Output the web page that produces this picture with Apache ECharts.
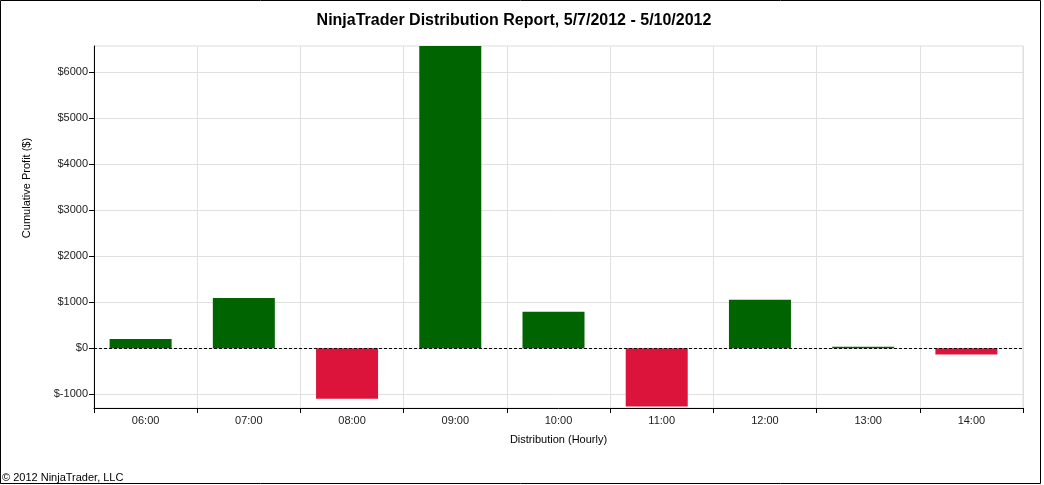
<!DOCTYPE html>
<html>
<head>
<meta charset="utf-8">
<script src="https://cdn.jsdelivr.net/npm/echarts@6/dist/echarts.min.js"></script>
<style>
html,body{margin:0;padding:0;background:#fff;}
#chart{width:1044px;height:485px;}
</style>
</head>
<body>
<div id="chart"></div>
<script>
const categories = ['06:00','07:00','08:00','09:00','10:00','11:00','12:00','13:00','14:00'];
const profits = [200, 1090, -1100, 6560, 790, -1270, 1050, 30, -140];
const yTicks = [-1000, 0, 1000, 2000, 3000, 4000, 5000, 6000];
const titleText = 'NinjaTrader Distribution Report, 5/7/2012 - 5/10/2012';
const copyright = '\u00a9 2012 NinjaTrader, LLC';

const chart = echarts.init(document.getElementById('chart'));
const font = 'Liberation Sans, Arial, sans-serif';
chart.setOption({
  animation: false,
  textStyle: {fontFamily: font},
  title: {
    text: titleText, left: 509, top: 8, textAlign: 'center',
    textStyle: {fontFamily: font, fontSize: 16, fontWeight: 'bold', color: '#000'}
  },
  grid: {left: 94, right: 21, top: 46, bottom: 77, show: true, borderColor: '#dcdcdc', borderWidth: 1},
  xAxis: {
    type: 'category', data: categories,
    name: 'Distribution (Hourly)', nameLocation: 'middle', nameGap: 26,
    nameTextStyle: {fontSize: 11, color: '#000'},
    axisLine: {onZero: false, lineStyle: {color: '#000', width: 1}},
    axisTick: {show: true, length: 5, lineStyle: {color: '#000'}},
    axisLabel: {fontSize: 11, color: '#222', margin: 7},
    splitLine: {show: true, lineStyle: {color: '#e0e0e0'}}
  },
  yAxis: {
    type: 'value', min: -1300, max: 6560,
    name: 'Cumulative Profit ($)', nameLocation: 'middle', nameGap: 62,
    nameTextStyle: {fontSize: 11, color: '#000', padding: [0, 0, 0, 78]},
    axisLine: {show: true, lineStyle: {color: '#000', width: 1}},
    axisTick: {show: true, length: 5, lineStyle: {color: '#000'}, customValues: yTicks},
    axisLabel: {fontSize: 11, color: '#222', margin: 6, customValues: yTicks, formatter: v => '$' + v},
    splitLine: {show: true, lineStyle: {color: '#e0e0e0'}}
  },
  series: [{
    type: 'bar', barWidth: 62, barGap: 0,
    data: profits.map(v => ({value: v, itemStyle: {color: v >= 0 ? '#006400' : '#dc143c'}})),
    markLine: {
      silent: true, symbol: 'none', label: {show: false},
      lineStyle: {color: '#000', type: [3, 2], width: 1},
      data: [{yAxis: 0}]
    }
  }, {
    type: 'bar', barWidth: 10, barGap: 0, silent: true,
    data: categories.map(() => '-')
  }],
  graphic: [
    {type: 'rect', shape: {x: 0.5, y: 0.5, width: 1040, height: 483}, style: {fill: 'none', stroke: '#000', lineWidth: 1}, z: 100},
    {type: 'text', left: 2, top: 472, style: {text: copyright, fontSize: 11, fontFamily: font, fill: '#000'}}
  ]
});
</script>
</body>
</html>
